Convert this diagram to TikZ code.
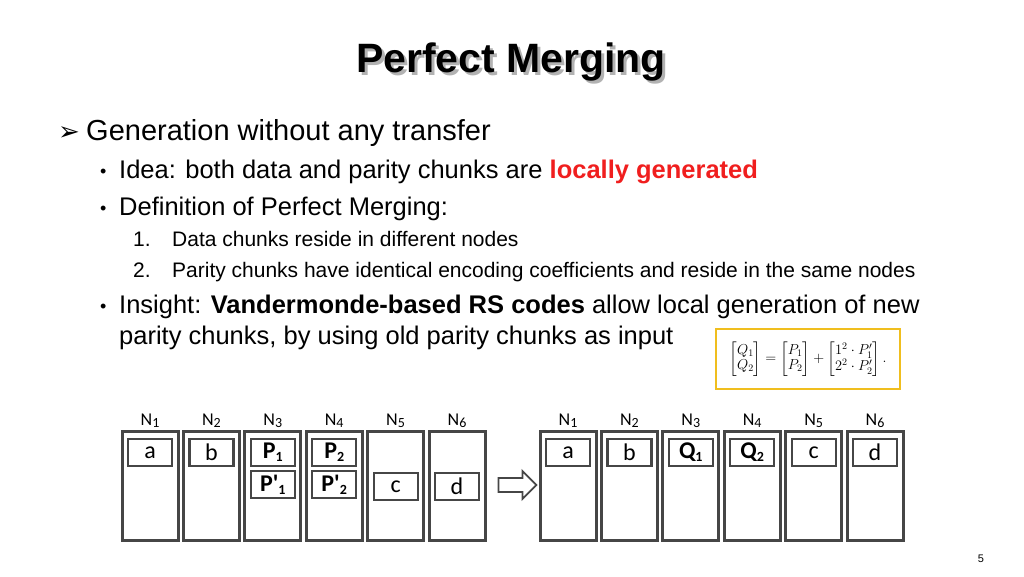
\documentclass[tikz,border=0pt]{standalone}
\usepackage{fontspec}
\usepackage{amsmath}
\setmainfont{Liberation Sans}
\newfontfamily\calib{Carlito}
\usetikzlibrary{shapes.arrows}
\definecolor{boxgray}{RGB}{70,70,70}
\definecolor{hired}{RGB}{240,30,30}
\definecolor{eqgold}{RGB}{240,190,30}
\newcommand{\sbs}[1]{\raisebox{-0.25ex}{\fontsize{14}{14}\selectfont #1}}
\tikzset{
  server/.style={draw=boxgray,line width=3pt,minimum width=56pt,minimum height=109pt,inner sep=0pt},
  chunk/.style={draw=boxgray,line width=2.2pt,minimum width=44pt,minimum height=27pt,inner sep=0pt,font=\calib\fontsize{24}{24}\selectfont},
  nlabel/.style={font=\calib\fontsize{18}{18}\selectfont},
  txt/.style={anchor=base west,inner sep=0pt}
}
\begin{document}
\begin{tikzpicture}[x=1pt,y=-1pt]
\useasboundingbox (0,0) rectangle (1024,576);

% title and text
\node[font=\bfseries\fontsize{41}{41}\selectfont,text=gray!60] at (514,65) {Perfect Merging};
\node[font=\bfseries\fontsize{41}{41}\selectfont] (title) at (511,62) {Perfect Merging};
\node[txt,font=\fontsize{26}{26}\selectfont] at (58,140) {\fontspec{DejaVu Sans}\symbol{"27A2}};
\node[txt,font=\fontsize{29}{29}\selectfont] at (86,140) {Generation without any transfer};
\begin{scope}[every node/.style={txt,font=\fontsize{25.5}{25.5}\selectfont}]
\node[font=\fontsize{18}{18}\selectfont] at (100,177) {•};
\node at (119,178) {Idea: both data and parity chunks are \textcolor{hired}{\bfseries locally generated}};
\node[font=\fontsize{18}{18}\selectfont] at (100,214) {•};
\node at (119,215) {Definition of Perfect Merging:};
\node[font=\fontsize{18}{18}\selectfont] at (100,312) {•};
\node at (119,313) {Insight: \textbf{Vandermonde-based RS codes} allow local generation of new};
\node at (119,344) {parity chunks, by using old parity chunks as input};
\end{scope}
\begin{scope}[every node/.style={txt,font=\fontsize{21}{21}\selectfont}]
\node at (133,246) {1.};
\node at (172,246) {Data chunks reside in different nodes};
\node at (133,277) {2.};
\node at (172,277) {Parity chunks have identical encoding coefficients and reside in the same nodes};
\end{scope}
\node[draw=eqgold,line width=2pt,minimum width=184pt,minimum height=60pt,inner sep=2pt,font=\fontsize{14.5}{14.5}\selectfont] (eq) at (808,359)
  {$\begin{bmatrix}Q_1\\Q_2\end{bmatrix}=\begin{bmatrix}P_1\\P_2\end{bmatrix}+\begin{bmatrix}1^2\cdot P'_1\\2^2\cdot P'_2\end{bmatrix}.$};

% left state
\foreach \i in {1,...,6} {
  \node[server] (L\i) at (150+61.4*\i-61.4,485.5) {};
  \node[nlabel] (LN\i) at (150+61.4*\i-61.4,421) {N\sbs{\i}};
  \node[server] (R\i) at (568+61.4*\i-61.4,485.5) {};
  \node[nlabel] (RN\i) at (568+61.4*\i-61.4,421) {N\sbs{\i}};
}
\node[chunk] (La) at (150,452.5) {a};
\node[chunk] (Lb) at (211.4,452.5) {b};
\node[chunk] (LP1) at (272.8,452.5) {\bfseries P\sbs{1}};
\node[chunk] (LP2) at (334.2,452.5) {\bfseries P\sbs{2}};
\node[chunk] (LQ1) at (272.8,484.5) {\bfseries P'\sbs{1}};
\node[chunk] (LQ2) at (334.2,484.5) {\bfseries P'\sbs{2}};
\node[chunk] (Lc) at (395.6,486.5) {c};
\node[chunk] (Ld) at (457,486.5) {d};

% arrow
\node[single arrow,draw=boxgray,line width=1.8pt,minimum height=38pt,minimum width=28pt,single arrow head extend=4pt,inner sep=3pt] (arr) at (514,485) {};

% right state
\node[chunk] (Ra) at (568,452.5) {a};
\node[chunk] (Rb) at (629.4,452.5) {b};
\node[chunk] (RQ1) at (690.8,452.5) {\bfseries Q\sbs{1}};
\node[chunk] (RQ2) at (752.2,452.5) {\bfseries Q\sbs{2}};
\node[chunk] (Rc) at (813.6,452.5) {c};
\node[chunk] (Rd) at (875,452.5) {d};

\node[font=\fontsize{11}{11}\selectfont] (pg) at (981,559) {5};
\end{tikzpicture}
\end{document}
